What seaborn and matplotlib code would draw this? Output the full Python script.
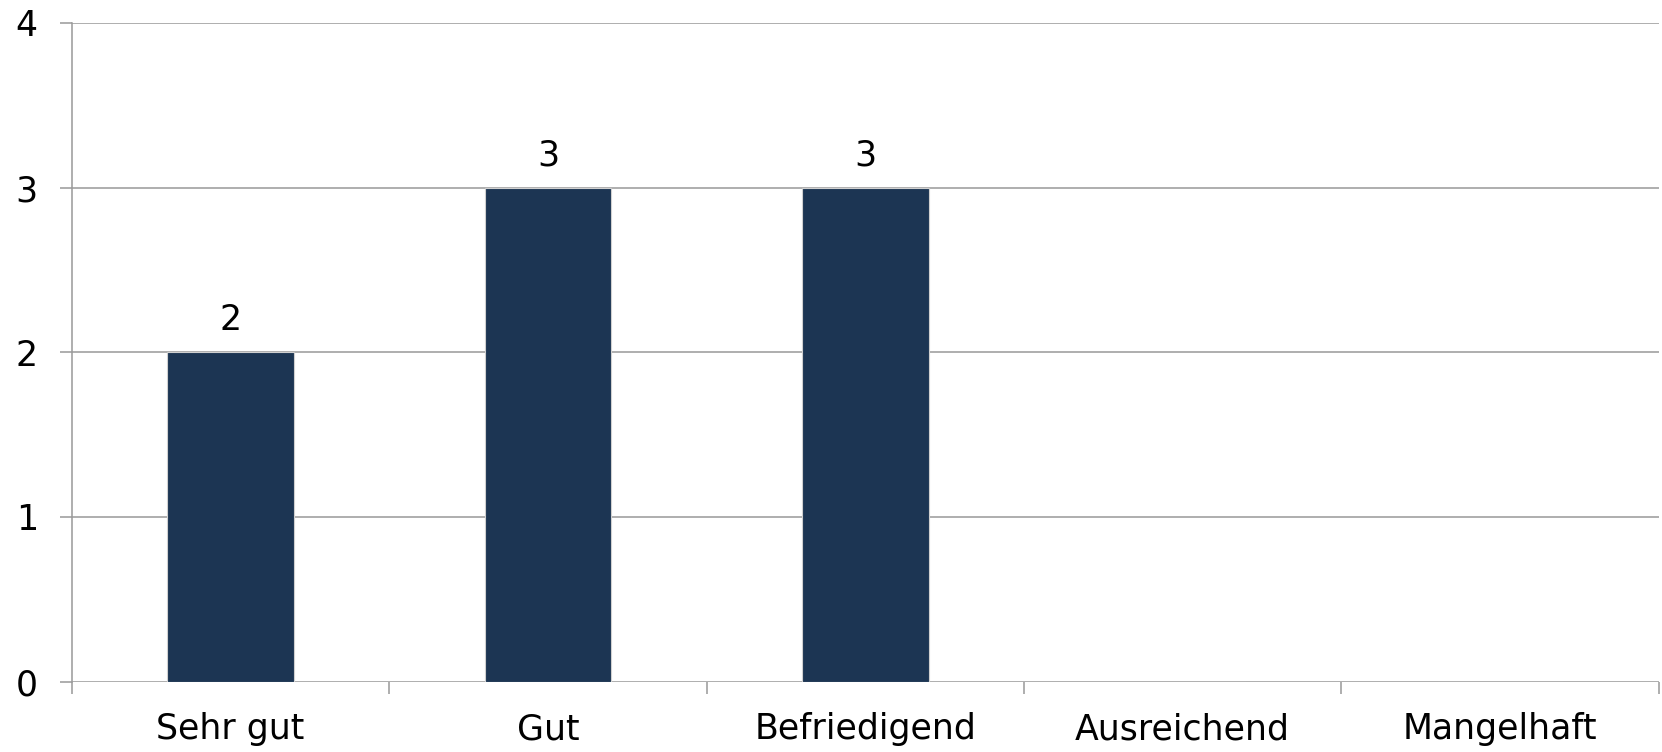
import matplotlib
matplotlib.use('Agg')
import matplotlib.pyplot as plt
import seaborn as sns
import pandas as pd
from matplotlib.ticker import FixedLocator

# chart data
categories = ['Sehr gut', 'Gut', 'Befriedigend', 'Ausreichend', 'Mangelhaft']
counts = [2, 3, 3, 0, 0]

df = pd.DataFrame({'Note': categories, 'Anzahl': counts})

sns.set_theme(style='white')
plt.rcParams['font.family'] = ['DejaVu Sans']

grid_col = '#999999'
bar_col = '#1C3553'
fs = 25

fig = plt.figure(figsize=(16.62, 7.52), dpi=100)
ax = fig.add_axes([0.0433, 0.0935, 0.9547, 0.876])

sns.barplot(data=df, x='Note', y='Anzahl', color=bar_col, width=0.4,
            edgecolor='#d0d0d0', linewidth=0.8, saturation=1, ax=ax, zorder=3)

ax.set_ylim(0, 4)
ax.set_xlim(-0.5, len(categories) - 0.5)
ax.set_yticks([0, 1, 2, 3, 4])
ax.yaxis.grid(True, color=grid_col, linewidth=1.1)
ax.set_axisbelow(True)

# value labels, only for non-empty bars
labels = [str(v) if v > 0 else '' for v in counts]
ax.bar_label(ax.containers[0], labels=labels, padding=11, fontsize=fs, color='black')

for s in ['top', 'right', 'bottom']:
    ax.spines[s].set_visible(False)
ax.spines['left'].set_color(grid_col)
ax.spines['left'].set_linewidth(1.1)

# ticks at category boundaries
ax.xaxis.set_minor_locator(FixedLocator([i - 0.5 for i in range(len(categories) + 1)]))
ax.tick_params(axis='x', which='major', length=0, pad=22, labelsize=fs, colors='black')
ax.tick_params(axis='x', which='minor', bottom=True, length=8.5, width=1.1, color=grid_col)
ax.tick_params(axis='y', which='major', left=True, length=8.5, width=1.1, color=grid_col,
               pad=16, labelsize=fs, labelcolor='black')

ax.set_xlabel('')
ax.set_ylabel('')

plt.savefig('out.png', dpi=100)
